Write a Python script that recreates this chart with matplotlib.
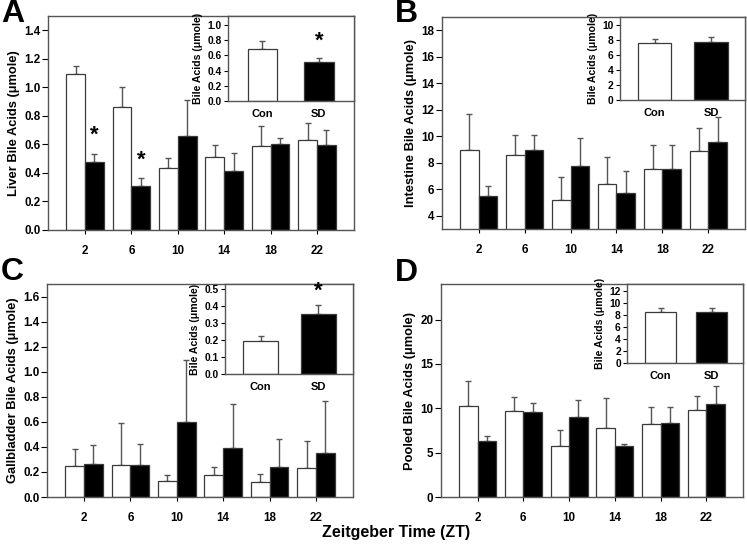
import matplotlib
matplotlib.use("Agg")
import matplotlib.pyplot as plt
import numpy as np

plt.rcParams['font.family'] = ['Liberation Sans', 'DejaVu Sans']
plt.rcParams['font.weight'] = 'bold'

W, H = 747, 552

# ---------------- data ----------------
zt_labels = ['2', '6', '10', '14', '18', '22']
inset_labels = ['Con', 'SD']

# Panel A: liver
liver_con = [1.09, 0.865, 0.432, 0.51, 0.586, 0.632]
liver_con_top = [1.15, 1.005, 0.505, 0.598, 0.73, 0.747]
liver_sd = [0.48, 0.31, 0.658, 0.415, 0.604, 0.593]
liver_sd_top = [0.535, 0.363, 0.91, 0.541, 0.642, 0.698]
liver_inset = [0.688, 0.513]
liver_inset_top = [0.793, 0.57]

# Panel B: intestine
intest_con = [8.97, 8.59, 5.19, 6.40, 7.50, 8.90]
intest_con_top = [11.67, 10.13, 6.90, 8.44, 9.32, 10.66]
intest_sd = [5.51, 9.00, 7.76, 5.69, 7.50, 9.60]
intest_sd_top = [6.22, 10.13, 9.88, 7.38, 9.32, 11.42]
intest_inset = [7.56, 7.73]
intest_inset_top = [8.09, 8.36]

# Panel C: gallbladder
gall_con = [0.247, 0.252, 0.13, 0.178, 0.116, 0.23]
gall_con_top = [0.386, 0.587, 0.174, 0.238, 0.187, 0.447]
gall_sd = [0.262, 0.258, 0.598, 0.388, 0.24, 0.353]
gall_sd_top = [0.416, 0.426, 1.095, 0.739, 0.465, 0.77]
gall_inset = [0.195, 0.352]
gall_inset_top = [0.221, 0.408]

# Panel D: pooled
pool_con = [10.28, 9.71, 5.74, 7.78, 8.20, 9.75]
pool_con_top = [13.11, 11.30, 7.56, 11.18, 10.16, 11.41]
pool_sd = [6.27, 9.60, 8.99, 5.78, 8.35, 10.50]
pool_sd_top = [6.88, 10.58, 10.96, 5.97, 10.16, 12.54]
pool_inset = [8.55, 8.55]
pool_inset_top = [9.25, 9.25]

# significance markers: (group index, series)
liver_stars = [(0, 'sd'), (1, 'sd')]
liver_inset_stars = [1]
gall_inset_stars = [1]

EDGE = '#3a3a3a'
ERR = '#555555'
SPINE = '#555555'


def rect(l, r, t, b):
    return [l / W, (H - b) / H, (r - l) / W, (b - t) / H]


def style_axes(ax, tick_fs):
    for s in ax.spines.values():
        s.set_color(SPINE)
        s.set_linewidth(1.0)
    ax.tick_params(axis='both', colors='black', labelsize=tick_fs, width=0.8,
                   direction='out')
    for lab in ax.get_xticklabels() + ax.get_yticklabels():
        lab.set_fontweight('bold')


def main_panel(r, con, con_top, sd, sd_top, ylim, yticks, yfmt, ylabel,
               stars=(), star_off=0.0):
    ax = fig.add_axes(r)
    x = np.arange(len(zt_labels))
    w = 0.405
    ax.bar(x - w / 2, con, w, color='white', edgecolor=EDGE, linewidth=0.9,
           zorder=2)
    ax.bar(x + w / 2, sd, w, color='black', edgecolor=EDGE, linewidth=0.9,
           zorder=2)
    con = np.array(con); sd = np.array(sd)
    ax.errorbar(x - w / 2, con, yerr=[np.zeros_like(con), np.array(con_top) - con],
                fmt='none', ecolor=ERR, elinewidth=1.0, capsize=2.5,
                capthick=1.0, zorder=1)
    ax.errorbar(x + w / 2, sd, yerr=[np.zeros_like(sd), np.array(sd_top) - sd],
                fmt='none', ecolor=ERR, elinewidth=1.0, capsize=2.5,
                capthick=1.0, zorder=1)
    ax.set_xlim(-0.8, len(zt_labels) - 0.2)
    ax.set_ylim(*ylim)
    ax.set_xticks(x)
    ax.set_xticklabels(zt_labels)
    ax.set_yticks(yticks)
    ax.set_yticklabels([yfmt.format(v) for v in yticks])
    ax.tick_params(axis='x', length=3, pad=8)
    ax.tick_params(axis='y', length=4, pad=1.5)
    ax.set_ylabel(ylabel, fontsize=9.3, fontweight='bold', labelpad=3)
    style_axes(ax, 8.4)
    rng = ylim[1] - ylim[0]
    for gi, ser in stars:
        xs = x[gi] + (w / 2 if ser == 'sd' else -w / 2)
        top = sd_top[gi] if ser == 'sd' else con_top[gi]
        ax.text(xs, top + star_off * rng, '*', ha='center', va='center',
                fontsize=16, fontweight='bold')
    return ax


def inset_panel(r, vals, tops, ylim, yticks, yfmt, w, xl, stars=(),
                star_off=0.0):
    ax = fig.add_axes(r, zorder=5)
    x = np.arange(2)
    ax.bar(x, vals, w, color=['white', 'black'], edgecolor=EDGE,
           linewidth=0.9, zorder=2)
    vals = np.array(vals)
    ax.errorbar(x, vals, yerr=[np.zeros_like(vals), np.array(tops) - vals],
                fmt='none', ecolor=ERR, elinewidth=1.0, capsize=2.5,
                capthick=1.0, zorder=1)
    ax.set_xlim(*xl)
    ax.set_ylim(*ylim)
    ax.set_xticks(x)
    ax.set_xticklabels(inset_labels)
    ax.set_yticks(yticks)
    ax.set_yticklabels([yfmt.format(v) for v in yticks])
    ax.tick_params(axis='x', length=0, pad=6, labelsize=8)
    ax.tick_params(axis='y', length=3, pad=1.5)
    ax.set_ylabel('Bile Acids (\u03bcmole)', fontsize=7.6, fontweight='bold',
                  labelpad=3)
    style_axes(ax, 7.4)
    ax.tick_params(axis='x', labelsize=8)
    rng = ylim[1] - ylim[0]
    for gi in stars:
        ax.text(x[gi], tops[gi] + star_off * rng, '*', ha='center',
                va='center', fontsize=16, fontweight='bold')
    return ax


fig = plt.figure(figsize=(W / 100, H / 100), dpi=100)

# A
main_panel(rect(48, 354, 16, 230), liver_con, liver_con_top, liver_sd,
           liver_sd_top, (0, 1.5), np.arange(0, 1.41, 0.2), '{:.1f}',
           'Liver Bile Acids (\u03bcmole)', stars=liver_stars, star_off=0.085)
inset_panel(rect(228, 354, 16, 101), liver_inset, liver_inset_top,
            (0, 1.12), np.arange(0, 1.01, 0.2), '{:.1f}', 0.52, (-0.61, 1.62),
            stars=liver_inset_stars, star_off=0.2)

# B
main_panel(rect(442, 745, 17, 229), intest_con, intest_con_top, intest_sd,
           intest_sd_top, (3, 19), np.arange(4, 19, 2), '{:.0f}',
           'Intestine Bile Acids (\u03bcmole)')
inset_panel(rect(620, 745, 17, 100), intest_inset, intest_inset_top,
            (0, 11.07), np.arange(0, 11, 2), '{:.0f}', 0.6, (-0.61, 1.6))

# C
main_panel(rect(47, 353, 284, 497), gall_con, gall_con_top, gall_sd,
           gall_sd_top, (0, 1.7), np.arange(0, 1.61, 0.2), '{:.1f}',
           'Gallbladder Bile Acids (\u03bcmole)')
inset_panel(rect(225, 353, 284, 374), gall_inset, gall_inset_top,
            (0, 0.53), np.arange(0, 0.51, 0.1), '{:.1f}', 0.6, (-0.62, 1.6),
            stars=gall_inset_stars, star_off=0.15)

# D
main_panel(rect(441, 743, 284, 497), pool_con, pool_con_top, pool_sd,
           pool_sd_top, (0, 24), np.arange(0, 21, 5), '{:.0f}',
           'Pooled Bile Acids (\u03bcmole)')
inset_panel(rect(627, 743, 284, 363), pool_inset, pool_inset_top,
            (0, 13.2), np.arange(0, 13, 2), '{:.0f}', 0.6, (-0.66, 1.61))

# panel letters
for letter, px, py in [('A', 13, 14), ('B', 406, 14), ('C', 12, 272),
                       ('D', 406, 273)]:
    fig.text(px / W, 1 - py / H, letter, ha='center', va='center',
             fontsize=23, fontweight='bold')

fig.text(396 / W, 1 - 533 / H, 'Zeitgeber Time (ZT)', ha='center',
         va='center', fontsize=11.5, fontweight='bold')

fig.savefig('out.png', dpi=100)
